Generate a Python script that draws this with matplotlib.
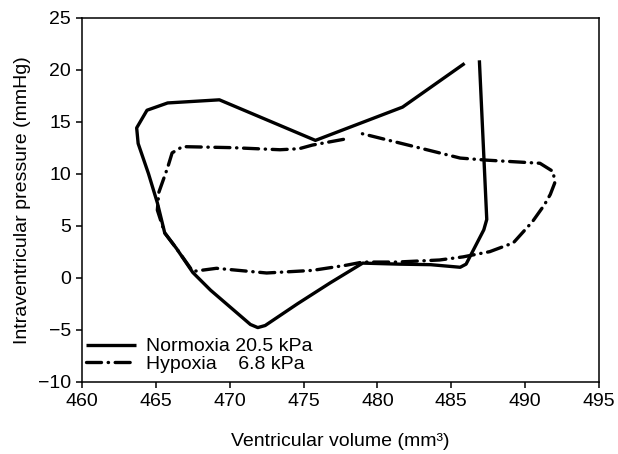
import matplotlib
matplotlib.use("Agg")
import matplotlib.pyplot as plt

plt.rcParams['font.family'] = ['Liberation Sans', 'DejaVu Sans']

# Normoxia loop (volume mm3, pressure mmHg)
normoxia_x = [485.9, 481.7, 475.8, 469.3, 465.8, 464.4, 463.7, 463.8, 464.5, 465.1,
              465.6, 466.4, 467.5, 468.7, 471.4, 471.9, 472.4, 474.6, 476.8, 479.0,
              481.5, 483.6, 485.6, 486.0, 487.2, 487.4, 486.9]
normoxia_y = [20.6, 16.4, 13.2, 17.1, 16.8, 16.1, 14.4, 12.9, 10.0, 7.2,
              4.3, 2.8, 0.5, -1.2, -4.5, -4.8, -4.6, -2.5, -0.5, 1.4,
              1.3, 1.25, 1.0, 1.3, 4.6, 5.6, 20.9]

# Hypoxia loop
hypoxia_x = [477.7, 475.6, 474.7, 473.4, 470.2, 466.8, 466.1, 465.8, 465.2, 465.1,
             465.6, 466.4, 467.5, 469.1, 472.5, 475.6, 477.9, 479.0, 481.3, 484.2,
             485.8, 487.6, 489.2, 490.5, 491.3, 491.7, 492.0, 491.9, 491.0, 487.4,
             485.6, 482.5, 478.8]
hypoxia_y = [13.3, 12.75, 12.4, 12.3, 12.5, 12.6, 12.0, 10.6, 8.2, 6.5,
             4.3, 2.8, 0.6, 0.9, 0.45, 0.7, 1.2, 1.5, 1.5, 1.7,
             2.0, 2.5, 3.35, 5.4, 7.0, 8.0, 9.1, 10.2, 11.0, 11.3,
             11.5, 12.6, 13.9]

labels = ['Normoxia 20.5 kPa', 'Hypoxia    6.8 kPa']

fig = plt.figure(figsize=(6.18, 4.54), dpi=100)
ax = fig.add_axes([0.1327, 0.1593, 0.8366, 0.8018])

ax.plot(normoxia_x, normoxia_y, color='black', lw=2.4, solid_joinstyle='round',
        solid_capstyle='butt', label=labels[0])
ax.plot(hypoxia_x, hypoxia_y, color='black', lw=2.4, dashes=[4.5, 2, 0.1, 2],
        dash_capstyle='round', dash_joinstyle='round', label=labels[1])

ax.set_xlim(460, 495)
ax.set_ylim(-10, 25)
ax.set_xticks(range(460, 496, 5))
ax.set_yticks(range(-10, 26, 5))
ax.tick_params(direction='out', length=4, width=1.1, labelsize=14, pad=4)
for s in ax.spines.values():
    s.set_linewidth(1.1)

ax.set_xlabel('Ventricular volume (mm³)', fontsize=14, labelpad=17)
ax.set_ylabel('Intraventricular pressure (mmHg)', fontsize=14, labelpad=5)

ax.legend(loc='lower left', bbox_to_anchor=(-0.01, 0.0), frameon=False, fontsize=14,
          handlelength=2.6, handletextpad=0.5, labelspacing=0.0,
          borderaxespad=0.35, borderpad=0.1)

fig.savefig('out.png', dpi=100)
